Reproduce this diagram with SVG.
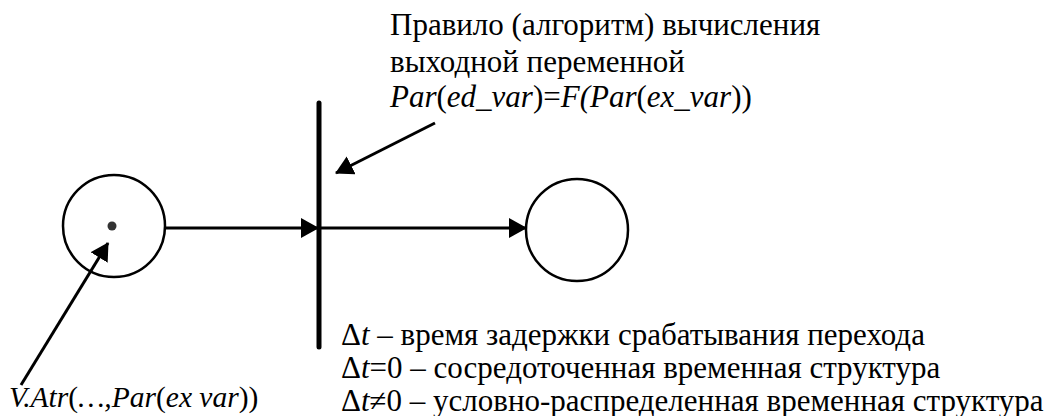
<svg xmlns="http://www.w3.org/2000/svg" width="1050" height="416" viewBox="0 0 1050 416">
<style>
text{font-family:"Liberation Serif","Times New Roman",serif;font-size:31px;fill:#000}
.i{font-style:italic}
.c{fill:#fff;stroke:#000;stroke-width:2.5}
.ln{stroke:#000;stroke-width:3;fill:none}
</style>
<defs>
<marker id="ah" markerWidth="18" markerHeight="20" refX="17" refY="10" orient="auto" markerUnits="userSpaceOnUse">
<path d="M0,0 L18,10 L0,20 Z" fill="#000"/>
</marker>
</defs>
<rect width="1050" height="416" fill="#fff"/>
<g id="place-input">
<circle class="c" cx="114" cy="226" r="51"/>
<circle cx="112" cy="226" r="4.5" fill="#333"/>
</g>
<g id="place-output">
<circle class="c" cx="577" cy="230" r="51"/>
</g>
<g id="transition">
<line x1="319" y1="103" x2="319" y2="347" stroke="#000" stroke-width="5" stroke-linecap="round"/>
</g>
<g id="connectors">
<line class="ln" x1="165" y1="228" x2="318" y2="228" marker-end="url(#ah)"/>
<line class="ln" x1="319" y1="228" x2="526" y2="228" marker-end="url(#ah)"/>
<line class="ln" x1="435" y1="123" x2="336" y2="173" marker-end="url(#ah)"/>
<line class="ln" x1="21" y1="385" x2="108" y2="243" marker-end="url(#ah)"/>
</g>
<g id="label-rule">
<text x="390" y="35">Правило (алгоритм) вычисления</text>
<text x="390" y="72">выходной переменной</text>
<text x="390" y="107"><tspan class="i">Par</tspan>(<tspan class="i">ed_var</tspan>)=<tspan class="i">F(Par</tspan>(<tspan class="i">ex_var</tspan>))</text>
</g>
<g id="label-attr">
<text x="9" y="407" style="font-size:29.5px"><tspan class="i">V.Atr</tspan>(<tspan class="i">…,Par</tspan>(<tspan class="i">ex var</tspan>))</text>
</g>
<g id="label-delay">
<text x="341" y="345">Δ<tspan class="i">t</tspan> – время задержки срабатывания перехода</text>
<text x="341" y="378">Δ<tspan class="i">t</tspan>=0 – сосредоточенная временная структура</text>
<text x="341" y="411">Δ<tspan class="i">t</tspan>≠0 – условно-распределенная временная структура</text>
</g>
</svg>
